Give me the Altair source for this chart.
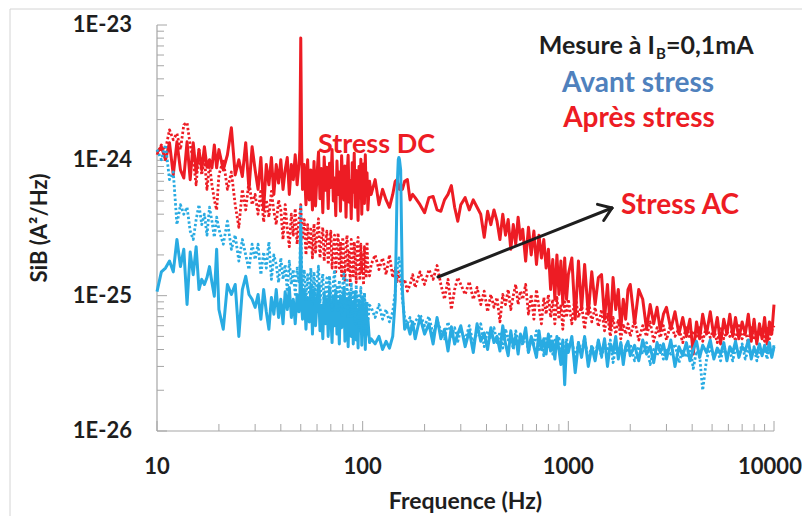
import altair as alt
import pandas as pd

# Frequency grid (Hz)
FREQ = [
    10, 10.5, 11, 11.5, 12, 12.5, 13, 13.5, 14, 14.5,
    15, 15.5, 16, 16.5, 17, 17.5, 18, 18.5, 19, 19.5,
    20, 21, 22, 23, 24, 25, 26, 27, 28, 29,
    30, 31, 32, 33, 34, 35, 36, 37, 38, 39,
    40, 41, 42, 43, 44, 45, 46, 47, 48, 49,
    49.5, 50, 50.5, 51, 52, 53, 54, 55, 56, 57,
    58, 59, 60, 61, 62, 63, 64, 65, 66, 67,
    68, 69, 70, 71, 72, 73, 74, 75, 76, 77,
    78, 79, 80, 81, 82, 83, 84, 85, 86, 87,
    88, 89, 90, 91, 92, 93, 94, 95, 96, 97,
    98, 99, 100, 101, 102, 103, 104, 105, 106, 108,
    110, 115, 120, 125, 130, 135, 140, 144, 147, 149,
    150, 151, 153, 156, 160, 165, 170, 175, 180, 190,
    200, 210, 220, 230, 240, 250, 260, 270, 280, 290,
    300, 315, 330, 345, 360, 375, 390, 405, 420, 435,
    450, 465, 480, 495, 510, 525, 540, 555, 570, 585,
    600, 620, 640, 660, 680, 700, 720, 740, 760, 780,
    800, 820, 840, 860, 880, 900, 920, 940, 960, 980,
    1000, 1040, 1080, 1120, 1160, 1200, 1250, 1300, 1350, 1400,
    1450, 1500, 1550, 1600, 1650, 1700, 1750, 1800, 1850, 1900,
    1950, 2000, 2100, 2200, 2300, 2400, 2500, 2600, 2700, 2800,
    2900, 3000, 3150, 3300, 3450, 3600, 3750, 3900, 4050, 4200,
    4350, 4500, 4700, 4900, 5100, 5300, 5500, 5700, 5900, 6100,
    6300, 6500, 6750, 7000, 7250, 7500, 7750, 8000, 8250, 8500,
    8750, 9000, 9250, 9500, 9750, 10000,
]

UNIT = 1e-25  # values below are in units of 1E-25 A^2/Hz

# Après stress - Stress DC (red, solid)
RED_DC = [
    11.4, 12.6, 10.1, 13.5, 7.8, 13.7, 8.5, 7.4, 13.7, 7.2,
    13.5, 8.1, 12.0, 8.5, 12.6, 8.9, 10.1, 8.8, 13.0, 8.8,
    12.0, 8.5, 11.0, 17.4, 7.8, 10.1, 7.6, 13.5, 6.1, 12.6,
    8.5, 6.1, 10.5, 4.3, 9.3, 6.6, 10.5, 5.6, 9.3, 6.8,
    10.1, 6.1, 8.5, 10.5, 5.6, 9.3, 7.2, 11.0, 6.6, 9.3,
    12.0, 80, 12.0, 6.1, 9.3, 4.7, 10.1, 5.1, 8.5, 4.3,
    9.8, 4.6, 7.9, 11.5, 5.2, 8.7, 4.1, 10.6, 6.0, 8.9,
    4.4, 9.5, 6.3, 12.0, 5.0, 7.4, 3.9, 9.9, 5.6, 8.2,
    4.2, 10.8, 6.8, 5.1, 9.1, 3.8, 8.0, 10.9, 4.9, 7.1,
    3.7, 9.6, 5.8, 11.3, 4.5, 8.4, 6.4, 3.6, 9.0, 5.3,
    10.2, 4.0, 7.7, 9.4, 4.8, 11.0, 5.5, 8.1, 4.3, 7.0,
    5.6, 7.2, 4.7, 6.1, 5.1, 4.5, 5.6, 7.0, 7.2, 6.6,
    6.3, 6.1, 6.6, 6.1, 7.0, 7.2, 5.1, 5.6, 5.3, 4.7,
    4.1, 5.3, 5.4, 4.3, 4.2, 5.1, 5.6, 6.5, 4.5, 3.55,
    4.7, 5.3, 4.3, 5.1, 4.5, 4.0, 2.7, 4.2, 3.35, 4.3,
    3.55, 2.6, 4.0, 2.8, 3.65, 2.2, 3.35, 2.4, 3.8, 2.6,
    3.1, 1.8, 3.2, 2.0, 3.0, 1.7, 2.8, 1.9, 2.6, 1.6,
    2.2, 1.11, 1.85, 0.94, 2.0, 1.02, 1.8, 0.86, 1.9, 0.94,
    1.43, 1.9, 0.67, 1.8, 0.79, 1.7, 0.73, 1.5, 0.86, 1.36,
    1.43, 0.67, 1.21, 0.565, 1.36, 0.79, 1.11, 0.565, 0.94, 0.67,
    1.11, 1.21, 0.62, 1.11, 0.94, 0.565, 0.86, 0.62, 0.82, 0.55,
    0.73, 0.82, 0.565, 0.76, 0.52, 0.69, 0.5, 0.67, 0.37, 0.64,
    0.48, 0.73, 0.52, 0.76, 0.5, 0.69, 0.44, 0.67, 0.52, 0.73,
    0.5, 0.69, 0.48, 0.64, 0.52, 0.73, 0.46, 0.67, 0.44, 0.62,
    0.48, 0.69, 0.44, 0.64, 0.52, 0.86,
]

# Après stress - Stress AC (red, dotted)
RED_AC = [
    11.0, 13.0, 12.0, 16.8, 14.2, 15.8, 12.0, 18.3, 19.0, 13.0,
    10.1, 6.6, 12.0, 7.8, 10.5, 6.1, 9.3, 6.6, 5.1, 4.3,
    7.8, 10.1, 6.1, 8.2, 4.7, 3.2, 6.1, 4.3, 7.0, 4.7,
    5.6, 4.0, 6.1, 3.5, 5.1, 3.8, 5.9, 4.2, 3.35, 5.1,
    4.3, 2.6, 4.7, 3.1, 2.3, 4.0, 2.8, 4.4, 2.4, 3.65,
    4.0, 4.7, 3.35, 2.6, 3.65, 2.0, 3.35, 2.2, 3.1, 1.9,
    3.4, 2.1, 2.9, 3.7, 1.9, 2.6, 3.2, 1.8, 2.5, 3.0,
    1.7, 2.4, 3.0, 1.6, 2.2, 2.8, 1.5, 2.3, 2.9, 1.6,
    2.5, 1.4, 2.7, 2.0, 1.3, 2.4, 2.8, 1.5, 2.1, 1.2,
    2.6, 1.8, 1.4, 2.5, 1.9, 1.25, 2.3, 2.7, 1.6, 1.3,
    2.4, 1.5, 2.0, 1.2, 2.3, 1.7, 1.35, 2.5, 1.6, 1.4,
    1.7, 2.0, 1.56, 1.9, 1.43, 2.0, 1.36, 1.6, 1.27, 1.5,
    1.43, 1.36, 1.27, 1.19, 1.32, 1.08, 1.21, 1.43, 1.15, 1.5,
    1.21, 1.56, 1.32, 1.67, 1.21, 0.94, 1.32, 0.79, 1.11, 1.36,
    1.21, 1.02, 1.27, 0.94, 1.15, 0.86, 1.08, 0.76, 1.02, 0.82,
    0.97, 0.64, 1.02, 0.86, 1.11, 0.79, 1.0, 1.21, 0.86, 1.08,
    0.94, 1.21, 0.73, 1.02, 0.67, 1.11, 0.82, 0.62, 0.97, 0.73,
    1.02, 0.69, 0.94, 0.62, 0.97, 0.67, 0.86, 0.565, 0.9, 0.69,
    0.94, 0.62, 1.02, 0.69, 0.86, 0.565, 0.94, 0.64, 0.82, 0.59,
    0.79, 0.55, 0.73, 0.5, 0.69, 0.52, 0.67, 0.48, 0.62, 0.52,
    0.62, 0.5, 0.66, 0.47, 0.6, 0.5, 0.64, 0.46, 0.58, 0.49,
    0.6, 0.47, 0.62, 0.5, 0.57, 0.45, 0.6, 0.48, 0.55, 0.5,
    0.58, 0.46, 0.6, 0.49, 0.56, 0.45, 0.59, 0.48, 0.54, 0.5,
    0.57, 0.46, 0.6, 0.48, 0.55, 0.45, 0.58, 0.47, 0.54, 0.5,
    0.57, 0.46, 0.59, 0.48, 0.55, 0.6,
]

# Avant stress - DC device (blue, solid)
BLUE_DC = [
    1.07, 1.5, 1.6, 1.8, 1.5, 2.6, 1.64, 2.2, 0.86, 2.1,
    1.43, 2.3, 1.11, 1.32, 1.21, 1.36, 1.64, 1.25, 0.99, 2.2,
    0.79, 0.565, 1.21, 1.02, 1.21, 0.5, 1.11, 1.39, 1.02, 0.94,
    0.82, 1.02, 0.67, 1.11, 0.76, 0.565, 0.97, 0.73, 1.11, 0.69,
    0.94, 0.62, 1.07, 0.79, 1.15, 0.69, 0.94, 0.62, 1.02, 0.76,
    0.94, 3.35, 0.86, 0.67, 1.11, 0.565, 0.97, 0.64, 1.21, 0.52,
    1.1, 0.6, 0.9, 1.2, 0.55, 0.85, 0.48, 1.05, 0.62, 0.95,
    0.5, 1.15, 0.7, 0.45, 0.98, 0.6, 1.08, 0.52, 0.88, 0.44,
    1.0, 0.58, 0.82, 1.12, 0.46, 0.75, 0.95, 0.42, 0.8, 1.02,
    0.5, 0.9, 0.44, 0.7, 1.05, 0.47, 0.78, 0.41, 0.92, 0.55,
    0.85, 0.43, 0.98, 0.6, 0.72, 0.4, 0.88, 0.52, 0.68, 0.45,
    0.48, 0.44, 0.5, 0.40, 0.46, 0.41, 0.5, 0.94, 6.1, 10.1,
    10.5, 10.1, 8.5, 1.11, 0.565, 0.62, 0.52, 0.64, 0.48, 0.69,
    0.52, 0.62, 0.44, 0.69, 0.48, 0.565, 0.39, 0.59, 0.44, 0.52,
    0.6, 0.42, 0.55, 0.38, 0.62, 0.46, 0.53, 0.4, 0.58, 0.45,
    0.5, 0.39, 0.6, 0.44, 0.36, 0.55, 0.42, 0.5, 0.37, 0.52,
    0.45, 0.58, 0.38, 0.5, 0.42, 0.35, 0.55, 0.4, 0.48, 0.37,
    0.52, 0.39, 0.46, 0.34, 0.5, 0.4, 0.31, 0.47, 0.22, 0.44,
    0.38, 0.5, 0.27, 0.45, 0.35, 0.5, 0.3, 0.42, 0.33, 0.47,
    0.36, 0.48, 0.3, 0.44, 0.38, 0.5, 0.34, 0.45, 0.31, 0.42,
    0.46, 0.36, 0.43, 0.33, 0.47, 0.37, 0.42, 0.32, 0.45, 0.38,
    0.44, 0.34, 0.47, 0.3, 0.42, 0.36, 0.45, 0.33, 0.4, 0.46,
    0.35, 0.43, 0.38, 0.47, 0.34, 0.41, 0.37, 0.45, 0.33, 0.42,
    0.38, 0.46, 0.35, 0.42, 0.39, 0.47, 0.34, 0.41, 0.37, 0.44,
    0.36, 0.43, 0.38, 0.45, 0.35, 0.42,
]

# Avant stress - AC device (blue, dotted)
BLUE_AC = [
    12.0, 10.1, 13.0, 7.2, 8.2, 3.35, 4.7, 4.0, 4.5, 3.0,
    2.6, 3.65, 4.7, 3.35, 4.0, 2.8, 4.5, 3.55, 2.7, 3.8,
    3.1, 2.4, 3.55, 2.2, 2.8, 1.8, 2.6, 2.0, 1.56, 2.4,
    1.85, 2.4, 1.43, 2.1, 1.6, 2.5, 1.32, 2.0, 1.7, 1.25,
    1.9, 1.32, 1.7, 1.07, 1.8, 1.21, 1.56, 1.02, 1.6, 1.27,
    1.43, 4.7, 1.5, 1.11, 1.56, 0.94, 1.43, 1.02, 1.6, 0.86,
    1.5, 0.95, 1.3, 1.65, 0.88, 1.2, 1.45, 0.8, 1.1, 1.35,
    0.85, 1.4, 1.0, 0.78, 1.25, 1.55, 0.82, 1.15, 0.75, 1.3,
    1.0, 0.72, 1.2, 1.45, 0.8, 0.95, 1.3, 0.7, 1.05, 0.85,
    1.25, 0.68, 1.1, 0.9, 0.62, 1.2, 0.78, 1.0, 0.58, 0.92,
    1.15, 0.7, 0.95, 0.55, 1.05, 0.8, 0.5, 0.9, 0.65, 0.85,
    0.82, 0.69, 0.86, 0.67, 0.79, 0.64, 0.76, 1.07, 1.56, 1.8,
    1.9, 1.8, 1.43, 0.94, 0.69, 0.62, 0.69, 0.565, 0.64, 0.73,
    0.6, 0.7, 0.52, 0.66, 0.55, 0.48, 0.64, 0.5, 0.58, 0.46,
    0.56, 0.47, 0.6, 0.44, 0.53, 0.62, 0.42, 0.55, 0.48, 0.58,
    0.45, 0.54, 0.41, 0.57, 0.47, 0.52, 0.4, 0.55, 0.46, 0.5,
    0.43, 0.53, 0.38, 0.49, 0.44, 0.55, 0.4, 0.48, 0.36, 0.5,
    0.42, 0.52, 0.37, 0.47, 0.41, 0.5, 0.35, 0.45, 0.39, 0.48,
    0.4, 0.47, 0.34, 0.45, 0.38, 0.49, 0.33, 0.43, 0.37, 0.46,
    0.35, 0.44, 0.39, 0.47, 0.32, 0.42, 0.36, 0.45, 0.34, 0.41,
    0.38, 0.44, 0.33, 0.42, 0.37, 0.45, 0.31, 0.4, 0.36, 0.43,
    0.34, 0.41, 0.37, 0.44, 0.32, 0.4, 0.35, 0.42, 0.29, 0.39,
    0.36, 0.2, 0.34, 0.42, 0.35, 0.4, 0.33, 0.43, 0.36, 0.39,
    0.33, 0.41, 0.37, 0.44, 0.34, 0.4, 0.36, 0.42, 0.33, 0.39,
    0.37, 0.42, 0.34, 0.41, 0.36, 0.43,
]

# axis tick values and labels
X_LABELS = [10, 100, 1000, 10000]
X_LABEL_TEXT = ["10", "100", "1000", "10000"]
Y_LABELS = [1e-26, 1e-25, 1e-24, 1e-23]
Y_LABEL_TEXT = ["1E-26", "1E-25", "1E-24", "1E-23"]
MANTISSAS = [2, 3, 4, 5, 6, 7, 8, 9]

RED = "#ED1C24"
BLUE = "#29ABE2"
AXIS_GREY = "#A6A6A6"
TEXT = "#1E1E1E"
FONT = "Lato"

W, H = 617, 406

xs = alt.Scale(type="log", domain=[10, 10000], nice=False)
ys = alt.Scale(type="log", domain=[1e-26, 1e-23], nice=False)


def series_df(vals):
    return pd.DataFrame({"f": FREQ[:len(vals)], "s": [v * UNIT for v in vals[:len(FREQ)]]})


def line_layer(vals, color, dashed):
    kw = dict(color=color, strokeWidth=3, strokeJoin="round")
    if dashed:
        kw.update(strokeDash=[2.4, 2.2], strokeWidth=2.8)
    return alt.Chart(series_df(vals)).mark_line(**kw).encode(
        x=alt.X("f:Q", scale=xs, axis=None),
        y=alt.Y("s:Q", scale=ys, axis=None),
    )


def one():
    return pd.DataFrame({"a": [0]})


def seg(x1, y1, x2, y2, color=TEXT, width=3, cap="round"):
    return alt.Chart(one()).mark_rule(
        color=color, strokeWidth=width, strokeCap=cap
    ).encode(x=alt.value(x1), y=alt.value(y1), x2=alt.value(x2), y2=alt.value(y2))


# axis lines
domain = [
    seg(0, 0, 0, H, color=AXIS_GREY, width=1.2, cap="butt"),
    seg(0, H, W, H, color=AXIS_GREY, width=1.2, cap="butt"),
]

# minor / major ticks drawn inward
y_minor = pd.DataFrame({"v": [m * 10.0 ** e for e in (-26, -25, -24) for m in MANTISSAS]})
y_major = pd.DataFrame({"v": Y_LABELS})
x_minor = pd.DataFrame({"v": [m * 10.0 ** e for e in (1, 2, 3) for m in MANTISSAS]})
x_major = pd.DataFrame({"v": X_LABELS})

tick_kw = dict(color=AXIS_GREY, strokeWidth=1)
ticks = [
    alt.Chart(y_minor).mark_rule(**tick_kw).encode(
        y=alt.Y("v:Q", scale=ys, axis=None), x=alt.value(0), x2=alt.value(7)),
    alt.Chart(y_major).mark_rule(**tick_kw).encode(
        y=alt.Y("v:Q", scale=ys, axis=None), x=alt.value(0), x2=alt.value(10)),
    alt.Chart(x_minor).mark_rule(**tick_kw).encode(
        x=alt.X("v:Q", scale=xs, axis=None), y=alt.value(H), y2=alt.value(H - 7)),
    alt.Chart(x_major).mark_rule(**tick_kw).encode(
        x=alt.X("v:Q", scale=xs, axis=None), y=alt.value(H), y2=alt.value(H - 10)),
]

lab_kw = dict(font=FONT, fontWeight="bold", fontSize=22, color=TEXT)
x_lab_df = pd.DataFrame({"v": X_LABELS, "t": X_LABEL_TEXT})
tick_labels = [
    alt.Chart(x_lab_df.iloc[:-1]).mark_text(
        align="center", baseline="alphabetic", **lab_kw
    ).encode(x=alt.X("v:Q", scale=xs, axis=None), y=alt.value(H + 43), text="t:N"),
    # last label nudged so that it stays inside the page edge
    alt.Chart(x_lab_df.iloc[-1:]).mark_text(
        align="center", baseline="alphabetic", dx=-4, **lab_kw
    ).encode(x=alt.X("v:Q", scale=xs, axis=None), y=alt.value(H + 43), text="t:N"),
    alt.Chart(pd.DataFrame({"v": Y_LABELS, "t": Y_LABEL_TEXT})).mark_text(
        align="right", baseline="middle", **lab_kw
    ).encode(y=alt.Y("v:Q", scale=ys, axis=None), x=alt.value(-25), text="t:N"),
]


def label(text, x, y, size, color, align="left", baseline="alphabetic", angle=0):
    return alt.Chart(pd.DataFrame({"t": [text]})).mark_text(
        align=align, baseline=baseline, font=FONT, fontWeight="bold",
        fontSize=size, color=color, angle=angle,
    ).encode(text="t:N", x=alt.value(x), y=alt.value(y))


titles = [
    label("Frequence (Hz)", W / 2, H + 78, 23, TEXT, align="center"),
    label("SiB (A²/Hz)", -117, H / 2, 22, TEXT, align="center", baseline="middle", angle=270),
]

texts = [
    label("Mesure à I", 498, 29, 25, TEXT, align="right"),
    label("B", 499, 34, 15, TEXT),
    label("=0,1mA", 509, 29, 25, TEXT),
    label("Avant stress", 481, 67, 28, "#4F81BD", align="center"),
    label("Après stress", 482, 102, 28, RED, align="center"),
    label("Stress DC", 161, 128, 27, RED),
    label("Stress AC", 464, 189, 28, RED),
]

arrow = [
    seg(281, 252, 455, 183),
    seg(455, 183, 440.5, 179.4),
    seg(455, 183, 446.7, 195.5),
]

frame = alt.Chart(one()).mark_rect(
    filled=False, stroke="#D4D4D4", strokeWidth=1
).encode(x=alt.value(-147), y=alt.value(-16), x2=alt.value(700), y2=alt.value(520))

chart = alt.layer(
    frame, *domain, *ticks,
    line_layer(RED_DC, RED, False),
    line_layer(RED_AC, RED, True),
    line_layer(BLUE_DC, BLUE, False),
    line_layer(BLUE_AC, BLUE, True),
    *tick_labels, *titles, *arrow, *texts,
).properties(
    width=W, height=H,
    padding={"left": 149, "top": 17, "right": 28, "bottom": 85},
    autosize=alt.AutoSizeParams(type="none"),
).configure_view(stroke=None)

chart.save("out.html", embed_options={"renderer": "svg", "actions": False})
